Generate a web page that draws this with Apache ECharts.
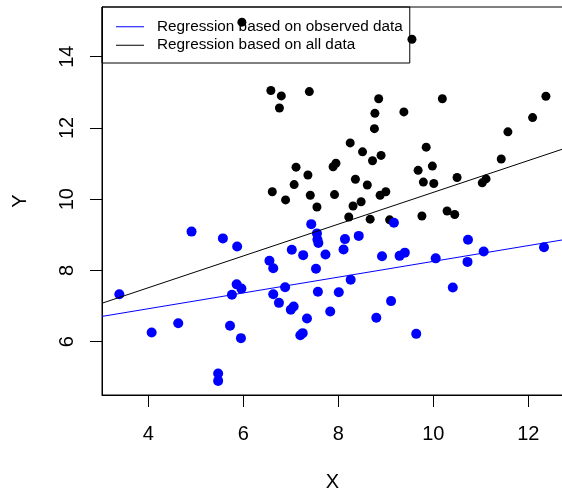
<!DOCTYPE html>
<html>
<head>
<meta charset="utf-8">
<script src="https://cdn.jsdelivr.net/npm/echarts@6/dist/echarts.min.js"></script>
<style>
  html, body { margin: 0; padding: 0; background: #fff; }
  #main { width: 562px; height: 490px; }
</style>
</head>
<body>
<div id="main"></div>
<script>
// 观测到的点 (蓝色)
const obsX = [4.91, 5.57, 5.87, 7.43, 7.55, 7.56, 7.58, 7.02, 7.26, 7.73, 6.55, 6.63, 7.53,
  3.39, 5.86, 5.96, 5.76, 6.88, 6.63, 6.75, 7.00, 7.06, 7.57, 7.83, 7.34, 7.20, 7.25,
  4.07, 4.63, 5.72, 5.95, 5.47, 5.47, 8.14, 8.43, 9.17, 8.11, 8.92, 9.29, 9.40, 10.73,
  11.06, 10.72, 10.05, 12.33, 8.26, 8.01, 9.11, 8.80, 10.41, 9.64];
const obsY = [9.09, 8.90, 8.67, 9.30, 9.04, 8.87, 8.77, 8.58, 8.43, 8.45, 8.27, 8.06, 8.05,
  7.33, 7.61, 7.49, 7.32, 7.53, 7.33, 7.09, 6.90, 6.99, 7.40, 6.85, 6.65, 6.18, 6.24,
  6.26, 6.52, 6.45, 6.10, 5.11, 4.90, 8.88, 8.97, 9.34, 8.59, 8.40, 8.41, 8.50, 8.86,
  8.53, 8.24, 8.34, 8.65, 7.74, 7.39, 7.14, 6.67, 7.52, 6.22];

// 其余的点 (黑色)
const restX = [5.97, 9.55, 6.58, 6.80, 6.76, 7.39, 8.85, 8.77, 8.76, 9.38, 10.19, 12.37,
  12.09, 11.57, 11.43, 8.25, 8.51, 8.72, 8.90, 9.85, 7.89, 7.95, 7.11, 7.36, 9.68, 9.98,
  10.50, 11.11, 11.03, 6.61, 6.89, 7.07, 7.41, 7.55, 7.92, 8.36, 8.61, 9.00, 8.88, 9.79,
  10.01, 8.31, 8.48, 8.22, 8.67, 9.08, 9.76, 10.29, 10.45];
const restY = [14.97, 14.49, 13.05, 12.90, 12.56, 13.02, 12.82, 12.41, 11.98, 12.45, 12.82,
  12.89, 12.29, 11.89, 11.13, 11.58, 11.33, 11.08, 11.23, 11.46, 10.91, 11.01, 10.90, 10.68,
  10.81, 10.93, 10.61, 10.57, 10.46, 10.21, 9.98, 10.41, 10.11, 9.78, 10.13, 10.56, 10.40,
  10.21, 10.11, 10.48, 10.44, 9.81, 9.93, 9.50, 9.44, 9.42, 9.53, 9.67, 9.57];

// 回归线两端
const fitX = [3.025, 12.73];
const fitObserved = [6.71, 8.86];
const fitAll = [7.08, 11.41];

const xTicks = [4, 6, 8, 10, 12];
const yTicks = [6, 8, 10, 12, 14];

const legendNames = ['Regression based on observed data', 'Regression based on all data'];

function pairs(xs, ys) {
  return xs.map((x, i) => [x, ys[i]]);
}

const font = "'Liberation Sans', Arial, sans-serif";
const chart = echarts.init(document.getElementById('main'), null, { renderer: 'canvas' });

var option = {
  backgroundColor: '#ffffff',
  animation: false,
  textStyle: { fontFamily: font },
  grid: {
    left: 102, top: 7, right: -1, bottom: 95,
    outerBoundsMode: 'none',
    show: true, borderColor: '#000', borderWidth: 1
  },
  legend: {
    data: legendNames,
    left: 102, top: 7,
    orient: 'vertical', align: 'left',
    icon: 'rect',
    padding: [12, 7, 10, 14],
    itemWidth: 28, itemHeight: 1, itemGap: 3,
    borderColor: '#000', borderWidth: 1,
    textStyle: {
      fontFamily: font, fontSize: 15.3, lineHeight: 15.5, color: '#000',
      padding: [0, 0, 0, 8]
    }
  },
  xAxis: {
    type: 'value', min: fitX[0], max: fitX[1],
    name: 'X', nameLocation: 'middle', nameGap: 77,
    nameTextStyle: { fontFamily: font, fontSize: 20, color: '#000' },
    axisLine: { show: true, lineStyle: { color: '#000', width: 1 } },
    axisTick: { show: true, length: 12, customValues: xTicks, lineStyle: { color: '#000' } },
    axisLabel: { customValues: xTicks, margin: 29, fontFamily: font, fontSize: 20, color: '#000' },
    splitLine: { show: false }
  },
  yAxis: {
    type: 'value', min: 4.504, max: 15.395,
    name: 'Y', nameLocation: 'middle', nameGap: 72,
    nameTextStyle: { fontFamily: font, fontSize: 20, color: '#000' },
    axisLine: { show: true, lineStyle: { color: '#000', width: 1 } },
    axisTick: { show: true, length: 12, customValues: yTicks, lineStyle: { color: '#000' } },
    axisLabel: { customValues: yTicks, rotate: 90, margin: 25, fontFamily: font, fontSize: 20, color: '#000' },
    splitLine: { show: false }
  },
  series: [
    {
      name: 'all', type: 'scatter', symbolSize: 9,
      itemStyle: { color: '#000', opacity: 1 },
      data: pairs(restX, restY)
    },
    {
      name: 'observed', type: 'scatter', symbolSize: 10,
      itemStyle: { color: '#0000ff', opacity: 1 },
      data: pairs(obsX, obsY)
    },
    {
      name: legendNames[0], type: 'line', symbol: 'none',
      lineStyle: { color: '#0000ff', width: 1 }, itemStyle: { color: '#0000ff' },
      data: pairs(fitX, fitObserved)
    },
    {
      name: legendNames[1], type: 'line', symbol: 'none',
      lineStyle: { color: '#000', width: 1 }, itemStyle: { color: '#000' },
      data: pairs(fitX, fitAll)
    }
  ]
};

chart.setOption(option);
</script>
</body>
</html>
